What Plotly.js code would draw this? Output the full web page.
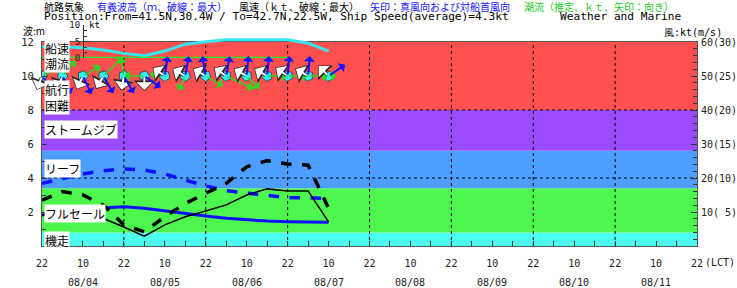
<!DOCTYPE html>
<html><head><meta charset="utf-8">
<script src="https://cdn.plot.ly/plotly-3.0.1.min.js"></script>
<style>body{margin:0;background:#fff}</style>
</head><body><div id="c" style="width:737px;height:288px"></div>
<script>
// ---- data ----
const hours      = [0, 6, 12, 18, 24, 30, 36, 42, 48, 54, 60, 66, 72, 78, 84]; // hours since 08/03 22:00 LCT
const waveSig    = [1.82, 2.02, 2.17, 2.25, 2.31, 2.22, 2.06, 1.92, 1.76, 1.63, 1.53, 1.47, 1.43, 1.43, 1.39];
const waveMax    = [3.69, 3.98, 4.24, 4.43, 4.53, 4.47, 4.24, 3.88, 3.53, 3.25, 3.10, 2.96, 2.84, 2.84, 2.80];
const windAvg    = [9.1, 10.3, 9.4, 8.1, 5.6, 2.9, 6.2, 8.6, 10.3, 12.1, 15.0, 16.8, 16.2, 16.2, 7.1];
const windMax    = [13.5, 16.0, 15.0, 12.0, 6.2, 4.2, 8.6, 12.5, 15.5, 18.4, 23.3, 25.1, 24.1, 23.8, 11.1];
const shipSpeed  = [3.4, 3.4, 3.1, 2.4, 1.4, 0.7, 2.1, 4.2, 4.9, 5.5, 5.5, 5.5, 5.5, 4.5, 2.1];
const currentHours = [0, 6, 12, 18, 24, 30, 36, 42, 48, 54, 60, 66, 72];
const currentSpeed = [0.1, 0.1, 0.1, 0.1, 0.1, 0.1, 0.1, 0.1, 0.1, 0.1, 0.1, 0.1, 0.1];
// arrow directions (deg, clockwise from up) and lengths
const trueWindDir  = [142, 155, 155, 150, 150, 125, 8, 10, 350, 10, 5, 5, 5, 5, 56];
const relWindDir   = [200, 200, 205, 210, 190, 180, 305, 300, 300, 305, 300, 300, 305, 300, 315];
const currentDir   = [65, 40, 60, 46, 350, 270, 280, 205, 120, 115, 135, 90, 90, 90, 90];
const currentLen   = [20, 20, 20, 27, 19, 20, 15, 16, 20, 30, 18, 20, 20, 20, 8];
const shipHeading  = [90, 90, 90, 90, 90, 95, 110, 110, 110, 120, 120, 120, 120, 120, 120];
// axes
const xTickHours  = [0, 12, 24, 36, 48, 60, 72, 84, 96, 108, 120, 132, 144, 156, 168, 180, 192];
const xTickLabels = ["22","10","22","10","22","10","22","10","22","10","22","10","22","10","22","10","22"];
const dayLines    = [24, 48, 72, 96, 120, 144, 168];
const dateHours   = [12, 36, 60, 84, 108, 132, 156, 180];
const dateLabels  = ["08/04","08/05","08/06","08/07","08/08","08/09","08/10","08/11"];
const waveTicks   = [2, 4, 6, 8, 10, 12];
const windTicks   = [10, 20, 30, 40, 50, 60];
const windTickLabels = ["10( 5)","20(10)","30(15)","40(20)","50(25)","60(30)"];
const bandEdgesKt = [0, 4, 17, 28, 40, 60];
const bandColors  = ["#4dfff0", "#4df64d", "#4d9eff", "#9c4cff", "#ff4f4f"];
const bandLabels  = [["機走", 0.35], ["フルセール", 1.94], ["リーフ", 4.53], ["ストームジブ", 6.88], ["航行<br>困難", 8.75]];
const dashedWaveLevels = [4, 8];

// ---- geometry helpers (pixel -> paper) ----
const L = 42, R = 697, T = 25, B = 246;
const px = X => (X - L) / (R - L);
const py = Y => (B - Y) / (B - T);
const mainTop = py(42);
const shipRow = 10;

const jp = "Noto Sans CJK JP";
const mono = "DejaVu Sans Mono";

const traces = [
  {x: hours, y: waveMax, yaxis: 'y', mode: 'lines', line: {color: '#1010ff', width: 3.5, dash: 'dash'}, hoverinfo: 'skip'},
  {x: hours, y: waveSig, yaxis: 'y', mode: 'lines', line: {color: '#1010ff', width: 3}, hoverinfo: 'skip'},
  {x: hours, y: windMax, yaxis: 'y2', mode: 'lines', line: {color: '#000', width: 3.5, dash: 'dash'}, hoverinfo: 'skip'},
  {x: hours, y: windAvg, yaxis: 'y2', mode: 'lines', line: {color: '#000', width: 1.5}, hoverinfo: 'skip'},
  {x: hours, y: hours.map(() => shipRow), yaxis: 'y', mode: 'markers',
   marker: {symbol: 'pentagon', size: 11, color: '#33f0f0', angle: shipHeading, line: {color: '#334', width: 0.8}}, hoverinfo: 'skip'},
  {x: hours, y: shipSpeed, xaxis: 'x', yaxis: 'y3', mode: 'lines', line: {color: '#33e6f0', width: 3}, cliponaxis: false, hoverinfo: 'skip'},
  {x: currentHours, y: currentSpeed, xaxis: 'x', yaxis: 'y3', mode: 'lines', line: {color: '#22ee22', width: 2}, cliponaxis: false, hoverinfo: 'skip'}
];

const shapes = [];
for (let i = 0; i < bandColors.length; i++) {
  shapes.push({type: 'rect', xref: 'paper', yref: 'y2', x0: 0, x1: 1, y0: bandEdgesKt[i], y1: bandEdgesKt[i + 1],
    fillcolor: bandColors[i], line: {width: 0}, layer: 'below'});
}
dashedWaveLevels.forEach(v => shapes.push({type: 'line', xref: 'paper', yref: 'y', x0: 0, x1: 1, y0: v, y1: v,
  line: {color: '#000', width: 1, dash: 'dot'}, layer: 'below'}));
dayLines.forEach(h => shapes.push({type: 'line', xref: 'x', yref: 'y', x0: h, x1: h, y0: 0, y1: 12,
  line: {color: '#000', width: 1, dash: 'dot'}, layer: 'below'}));

const ann = [];
function arrow(h, dir, len, color, width, size) {
  const r = dir * Math.PI / 180;
  const dx = len * Math.sin(r), dy = len * Math.cos(r);
  return {x: h, y: shipRow, xref: 'x', yref: 'y', text: '', showarrow: true, arrowhead: 1, arrowsize: size,
    arrowwidth: width, arrowcolor: color, ax: -dx, ay: dy, xshift: dx, yshift: dy, standoff: 0, startstandoff: 0};
}
hours.forEach((h, i) => {
  ann.push(arrow(h, currentDir[i], currentLen[i], '#22dd22', 1.5, 1.2));
  ann.push(arrow(h, relWindDir[i], 15, '#222', 3.5, 1.0));
  ann.push(arrow(h, relWindDir[i], 14, '#fff', 2, 1.3));
  ann.push(arrow(h, trueWindDir[i], 20, '#1010ff', 2, 0.9));
});
bandLabels.forEach(([t, v]) => ann.push({text: t, x: px(44), xref: 'paper', y: v, yref: 'y', xanchor: 'left', yanchor: 'middle',
  showarrow: false, bgcolor: '#fff', borderpad: 0, font: {family: jp, size: 12, color: '#000'}}));
[["船速", 49], ["潮流", 63]].forEach(([t, Y]) => ann.push({text: t, x: px(44), xref: 'paper', y: py(Y), yref: 'paper',
  xanchor: 'left', yanchor: 'middle', showarrow: false, bgcolor: '#fff', borderpad: 0, font: {family: jp, size: 12, color: '#000'}}));
// header
const head1 = [["航路気象", 42, '#000'], ["有義波高（ｍ、破線：最大）", 95, '#1515ff'], ["風速（ｋｔ、破線：最大）", 237, '#000'],
  ["矢印：真風向および対船首風向", 368, '#1515ff'], ["潮流（推定、ｋｔ、矢印：向き）", 522, '#22cc22']];
head1.forEach(([t, X, c]) => ann.push({text: t, x: px(X), y: py(6), xref: 'paper', yref: 'paper', xanchor: 'left', yanchor: 'middle',
  showarrow: false, font: {family: jp, size: 10, color: c}}));
ann.push({text: "Position:From=41.5N,30.4W / To=42.7N,22.5W, Ship Speed(average)=4.3kt", x: px(42), y: py(17), xref: 'paper', yref: 'paper',
  xanchor: 'left', yanchor: 'middle', showarrow: false, font: {family: mono, size: 11.2, color: '#000'}});
ann.push({text: "Weather and Marine", x: px(558), y: py(17), xref: 'paper', yref: 'paper',
  xanchor: 'left', yanchor: 'middle', showarrow: false, font: {family: mono, size: 11.2, color: '#000'}});
ann.push({text: "波:m", x: px(21), y: py(30), xref: 'paper', yref: 'paper', xanchor: 'left', yanchor: 'middle', showarrow: false,
  font: {family: jp, size: 10, color: '#000'}});
ann.push({text: "風:kt(m/s)", x: px(662), y: py(32), xref: 'paper', yref: 'paper', xanchor: 'left', yanchor: 'middle', showarrow: false,
  font: {family: mono, size: 10, color: '#000'}});
ann.push({text: "kt", x: px(87), y: py(25), xref: 'paper', yref: 'paper', xanchor: 'left', yanchor: 'middle', showarrow: false,
  font: {family: mono, size: 9, color: '#000'}});
ann.push({text: "(LCT)", x: px(703), y: py(262), xref: 'paper', yref: 'paper', xanchor: 'left', yanchor: 'middle', showarrow: false,
  font: {family: mono, size: 10, color: '#222'}});
dateHours.forEach((h, i) => ann.push({text: dateLabels[i], x: h, xref: 'x', y: py(282), yref: 'paper', xanchor: 'center', yanchor: 'middle',
  showarrow: false, font: {family: mono, size: 10, color: '#222'}}));

const layout = {
  width: 737, height: 288,
  margin: {l: L, r: 737 - R, t: T, b: 288 - B, pad: 0},
  paper_bgcolor: '#fff', plot_bgcolor: 'rgba(0,0,0,0)',
  showlegend: false,
  xaxis: {range: [0, 192], domain: [0, 1], anchor: 'y', tickvals: xTickHours, ticktext: xTickLabels,
    ticks: 'inside', ticklen: 5, tickcolor: '#333', showgrid: false, zeroline: false,
    showline: true, linecolor: '#555', linewidth: 1, mirror: true,
    minor: {dtick: 6, ticks: 'inside', ticklen: 5, tickcolor: '#333', showgrid: false},
    tickfont: {family: mono, size: 10, color: '#222'}, ticklabelstandoff: 8},
  yaxis: {range: [0, 12], domain: [0, mainTop], tickvals: waveTicks, ticks: 'inside', ticklen: 5, tickcolor: '#333',
    showgrid: false, zeroline: false, showline: true, linecolor: '#555', mirror: true,
    minor: {dtick: 1, ticks: 'inside', ticklen: 4, tickcolor: '#333', showgrid: false},
    tickfont: {family: mono, size: 10.5, color: '#222'}, ticklabelstandoff: 5},
  yaxis2: {range: [0, 60], overlaying: 'y', side: 'right', anchor: 'x', tickvals: windTicks, ticktext: windTickLabels,
    ticks: 'inside', ticklen: 6, tickcolor: '#333', showgrid: false, zeroline: false, showline: false,
    minor: {dtick: 2, ticks: 'inside', ticklen: 4, tickcolor: '#333', showgrid: false},
    tickfont: {family: mono, size: 10, color: '#222'}, ticklabelstandoff: 3},
  yaxis3: {range: [0, 10], domain: [py(58), 1], anchor: 'free', position: px(83), side: 'left',
    tickvals: [0, 5, 10], ticktext: ['0', '5', '10'], ticks: 'inside', ticklen: 5, tickcolor: '#333',
    showline: true, linecolor: '#333', showgrid: false, zeroline: false,
    minor: {dtick: 5 / 3, ticks: 'inside', ticklen: 3, tickcolor: '#333', showgrid: false},
    tickfont: {family: mono, size: 9, color: '#222'}, ticklabelstandoff: 1},
  shapes: shapes,
  annotations: ann
};
Plotly.newPlot('c', traces, layout, {staticPlot: true, displayModeBar: false});
</script></body></html>
